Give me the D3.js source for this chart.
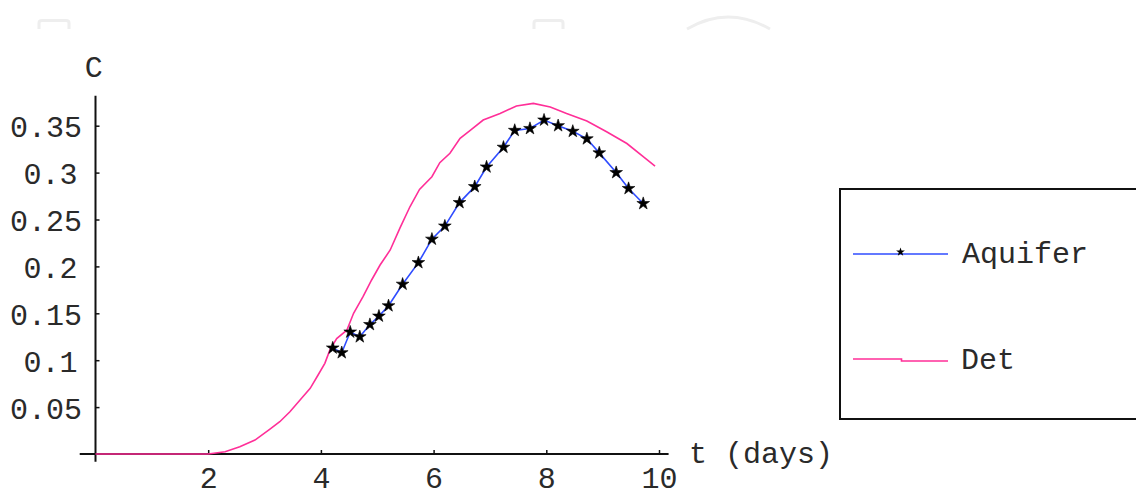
<!DOCTYPE html>
<html>
<head>
<meta charset="utf-8">
<script src="https://cdn.jsdelivr.net/npm/d3@7"></script>
<style>
  html, body { margin: 0; padding: 0; background: #fff; }
  svg { display: block; }
  text { font-family: "Liberation Mono", "Courier New", monospace; font-size: 30px; fill: #2a2a2a; }
</style>
</head>
<body>
<svg id="chart" width="1136" height="490"></svg>
<script>
// Axis ticks
const xTicks = [2, 4, 6, 8, 10];
const yTicks = [0.05, 0.1, 0.15, 0.2, 0.25, 0.3, 0.35];
const yTickLabels = ["0.05", "0.1", "0.15", "0.2", "0.25", "0.3", "0.35"];

// Measured concentrations in the aquifer
const aquiferT = [4.21, 4.37, 4.52, 4.69, 4.87, 5.03, 5.20, 5.45, 5.73, 5.97, 6.20, 6.46, 6.73,
                  6.94, 7.24, 7.44, 7.71, 7.96, 8.21, 8.47, 8.72, 8.94, 9.24, 9.46, 9.72];
const aquiferC = [0.113, 0.108, 0.130, 0.125, 0.138, 0.147, 0.158, 0.181, 0.204, 0.229, 0.243, 0.268, 0.285,
                  0.306, 0.327, 0.345, 0.347, 0.356, 0.350, 0.344, 0.336, 0.321, 0.300, 0.283, 0.267];

// Deterministic model curve
const detT = [0, 2.0, 2.30, 2.56, 2.83, 3.09, 3.27, 3.45, 3.63, 3.81, 3.95, 4.07, 4.16, 4.28, 4.46,
              4.58, 4.75, 4.90, 5.05, 5.23, 5.40, 5.58, 5.75, 5.97, 6.11, 6.29, 6.47, 6.65, 6.88,
              7.18, 7.47, 7.77, 8.07, 8.36, 8.72, 9.07, 9.43, 9.72, 9.93];
const detC = [0, 0, 0.0024, 0.0078, 0.0149, 0.0263, 0.0344, 0.0451, 0.0576, 0.070, 0.0842, 0.0967, 0.111, 0.123, 0.132,
              0.150, 0.168, 0.1855, 0.2015, 0.2175, 0.2406, 0.2636, 0.282, 0.2956, 0.3106, 0.3206, 0.3366, 0.345, 0.356,
              0.363, 0.371, 0.3738, 0.370, 0.363, 0.355, 0.3436, 0.331, 0.317, 0.307];

const seriesNames = ["Aquifer", "Det"];

const svg = d3.select("#chart");

const x = d3.scaleLinear().domain([0, 10]).range([95.5, 659]);
const y = d3.scaleLinear().domain([0, 0.35]).range([454, 125.7]);

// faint decorative marks along the top edge
const deco = svg.append("g").attr("fill", "none").attr("stroke", "#eeeeee").attr("stroke-width", 3);
deco.append("path").attr("d", "M39,29 V23 Q39,20.5 42,20.5 H66 Q69,20.5 69,23 V29");
deco.append("path").attr("d", "M534,29 V23 Q534,20.5 537,20.5 H560 Q563,20.5 563,23 V29");
deco.append("path").attr("d", "M687,29 Q728,5 770,29");

// axes crossing at the origin
const axisColor = "#111";
svg.append("line")
  .attr("x1", x(-0.28)).attr("x2", x(10.17))
  .attr("y1", y(0)).attr("y2", y(0))
  .attr("stroke", axisColor).attr("stroke-width", 2);
svg.append("line")
  .attr("x1", x(0)).attr("x2", x(0))
  .attr("y1", y(-0.0082)).attr("y2", y(0.382))
  .attr("stroke", axisColor).attr("stroke-width", 2);

const xAxis = svg.append("g")
  .attr("transform", `translate(0,${y(0)})`)
  .call(d3.axisBottom(x).tickValues(xTicks).tickSize(-4).tickSizeOuter(0).tickFormat(d3.format("d")));
xAxis.select(".domain").remove();
xAxis.selectAll(".tick line").attr("stroke", axisColor).attr("stroke-width", 1.5);
xAxis.selectAll(".tick text")
  .attr("y", 33.5).attr("dy", null)
  .attr("fill", "#2a2a2a")
  .style("font-family", "'Liberation Mono', monospace").style("font-size", "30px");

const yAxis = svg.append("g")
  .attr("transform", `translate(${x(0)},0)`)
  .call(d3.axisLeft(y).tickValues(yTicks).tickSize(-4).tickSizeOuter(0)
        .tickFormat((d, i) => yTickLabels[i]));
yAxis.select(".domain").remove();
yAxis.selectAll(".tick line").attr("stroke", axisColor).attr("stroke-width", 1.5);
yAxis.selectAll(".tick text")
  .attr("x", (d, i) => -13.5 - (4 - yTickLabels[i].length) * 4.5)
  .attr("dy", 11).attr("y", 0)
  .attr("text-anchor", "end")
  .attr("fill", "#2a2a2a")
  .style("font-family", "'Liberation Mono', monospace").style("font-size", "30px");

// axis titles
svg.append("text").attr("x", 93.8).attr("y", 76.7).attr("text-anchor", "middle").text("C");
svg.append("text").attr("x", 689).attr("y", 463).text("t (days)");

// series
const pink = "#ff2f98";
const blue = "#2f4cff";

const curve = d3.line().x(d => x(d[0])).y(d => y(d[1]));
svg.append("path")
  .datum(detT.map((t, i) => [t, detC[i]]))
  .attr("d", curve)
  .attr("fill", "none").attr("stroke", pink).attr("stroke-width", 1.6);

const aqData = aquiferT.map((t, i) => [t, aquiferC[i]]);
svg.append("path")
  .datum(aqData)
  .attr("d", curve)
  .attr("fill", "none").attr("stroke", blue).attr("stroke-width", 1.6);

const star = d3.symbol().type(d3.symbolStar);
svg.append("g").selectAll("path")
  .data(aqData)
  .join("path")
  .attr("transform", d => `translate(${x(d[0])},${y(d[1])})`)
  .attr("d", star.size(50)())
  .attr("fill", "#000")
  .attr("stroke", "#000").attr("stroke-width", 0.6);

// legend
const legend = svg.append("g");
legend.append("rect")
  .attr("x", 840).attr("y", 189).attr("width", 320).attr("height", 230)
  .attr("fill", "#fff").attr("stroke", "#111").attr("stroke-width", 2);

legend.append("line")
  .attr("x1", 853).attr("x2", 948).attr("y1", 254).attr("y2", 254)
  .attr("stroke", blue).attr("stroke-width", 1.6);
legend.append("path")
  .attr("transform", "translate(900.5,252)")
  .attr("d", d3.symbol().type(d3.symbolStar).size(24)())
  .attr("fill", "#000");
legend.append("text").attr("x", 962).attr("y", 263).text(seriesNames[0]);

legend.append("path")
  .attr("d", "M853,359 H901.5 V361 H948")
  .attr("fill", "none").attr("stroke", pink).attr("stroke-width", 1.6);
legend.append("text").attr("x", 961).attr("y", 369).text(seriesNames[1]);
</script>
</body>
</html>
